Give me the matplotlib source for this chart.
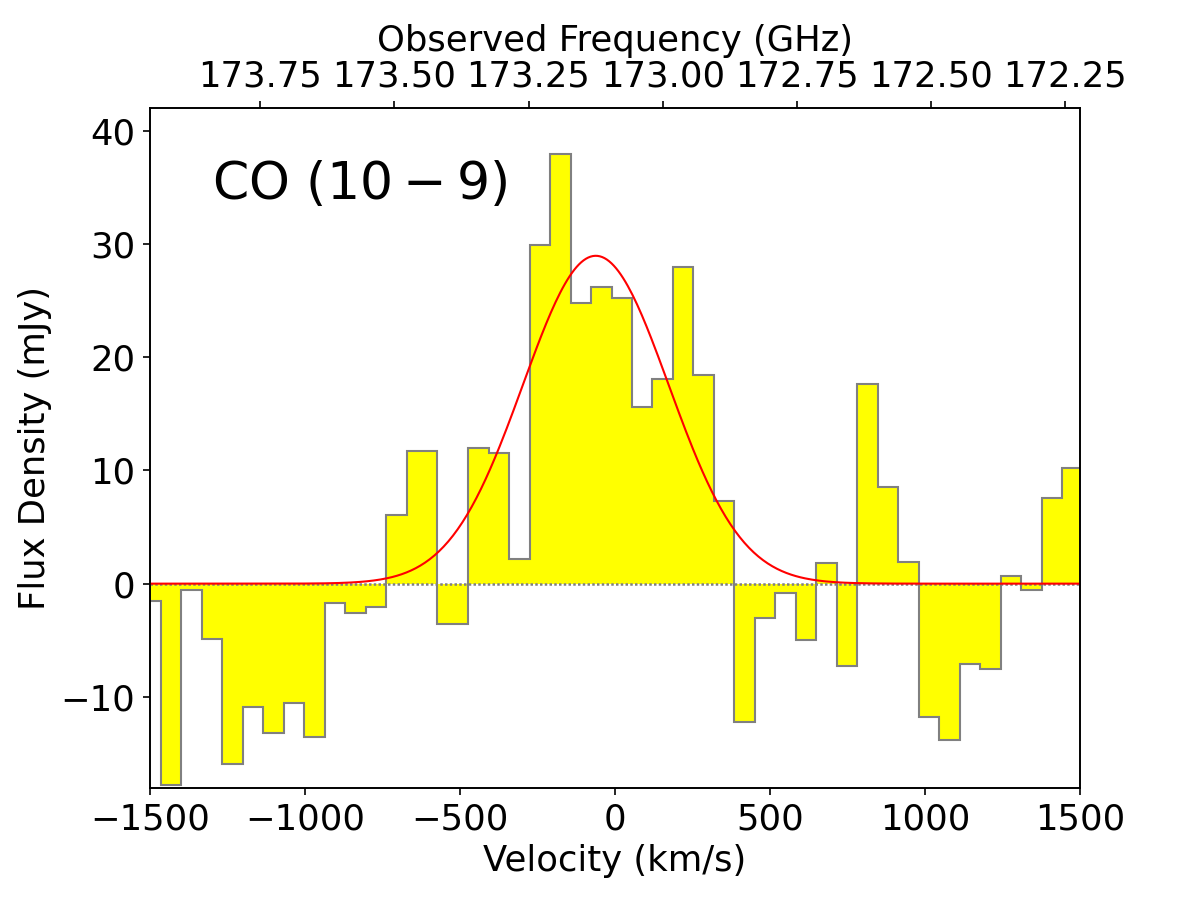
import numpy as np
import matplotlib
matplotlib.use("Agg")
import matplotlib.pyplot as plt

# Channel centres (km/s) and flux densities (mJy)
velocity = np.array([
    -1497.5, -1431.4, -1365.4, -1299.3, -1233.3, -1167.2, -1101.1, -1035.1,
    -969.0, -903.0, -836.9, -770.8, -704.8, -638.7, -506.6, -440.5,
    -374.5, -308.4, -242.4, -176.3, -110.2, -44.2, 21.9, 87.9,
    154.0, 220.1, 286.1, 352.2, 418.2, 484.3, 550.4, 616.4,
    682.5, 748.5, 814.6, 880.7, 946.7, 1012.8, 1078.8, 1144.9,
    1211.0, 1277.0, 1343.1, 1409.1, 1475.2])
flux = np.array([
    -1.55, -17.8, -0.6, -4.9, -15.95, -10.85, -13.2, -10.5,
    -13.55, -1.7, -2.55, -2.05, 6.05, 11.7, -3.6, 12.0,
    11.5, 2.2, 29.9, 37.9, 24.75, 26.2, 25.25, 15.6,
    18.1, 28.0, 18.4, 7.3, -12.2, -3.05, -0.85, -5.0,
    1.85, -7.3, 17.65, 8.5, 1.95, -11.75, -13.8, -7.1,
    -7.5, 0.65, -0.6, 7.6, 10.2])
half_chan = 33.0

# Gaussian fit parameters
g_amp, g_cen, g_sigma = 28.95, -62.0, 235.0

# Frequency axis
nu0 = 173.089        # GHz at v = 0
c_kms = 299792.458
freq_ticks = [173.75, 173.50, 173.25, 173.00, 172.75, 172.50, 172.25]

xlim = (-1500, 1500)
ylim = (-18, 42)
fs = 17

fig = plt.figure(figsize=(8, 6), dpi=150)
ax = fig.add_subplot(111)
fig.subplots_adjust(left=0.125, right=0.9, bottom=0.125, top=0.88)

edges = np.concatenate([[velocity[0] - half_chan],
                        (velocity[:-1] + velocity[1:]) / 2.0,
                        [velocity[-1] + half_chan]])
ax.stairs(flux, edges, baseline=0, fill=True, color='yellow', linewidth=0, zorder=1)
ax.stairs(flux, edges, baseline=None, color='grey', linewidth=1.0, zorder=2)
ax.axhline(0, color='grey', linestyle=(0, (1, 0.9)), linewidth=1.2, zorder=3)

vv = np.linspace(xlim[0], xlim[1], 400)
ax.plot(vv, g_amp * np.exp(-0.5 * ((vv - g_cen) / g_sigma) ** 2),
        color='red', linewidth=1.0, zorder=4)

ax.set_xlim(*xlim)
ax.set_ylim(*ylim)
ax.set_xticks([-1500, -1000, -500, 0, 500, 1000, 1500])
ax.set_yticks([-10, 0, 10, 20, 30, 40])
ax.tick_params(labelsize=fs)
ax.set_xlabel('Velocity (km/s)', fontsize=fs)
ax.set_ylabel('Flux Density (mJy)', fontsize=fs)

ax.text(-1300, 34, r'CO $(10-9)$', fontsize=25, ha='left', va='baseline')

ax2 = ax.twiny()
ax2.set_xlim(nu0 * (1 - xlim[0] / c_kms), nu0 * (1 - xlim[1] / c_kms))
ax2.set_xticks(freq_ticks)
ax2.set_xticklabels(['%.2f' % f for f in freq_ticks])
ax2.tick_params(labelsize=fs)
ax2.set_xlabel('Observed Frequency (GHz)', fontsize=fs)

fig.savefig('out.png', dpi=150)
